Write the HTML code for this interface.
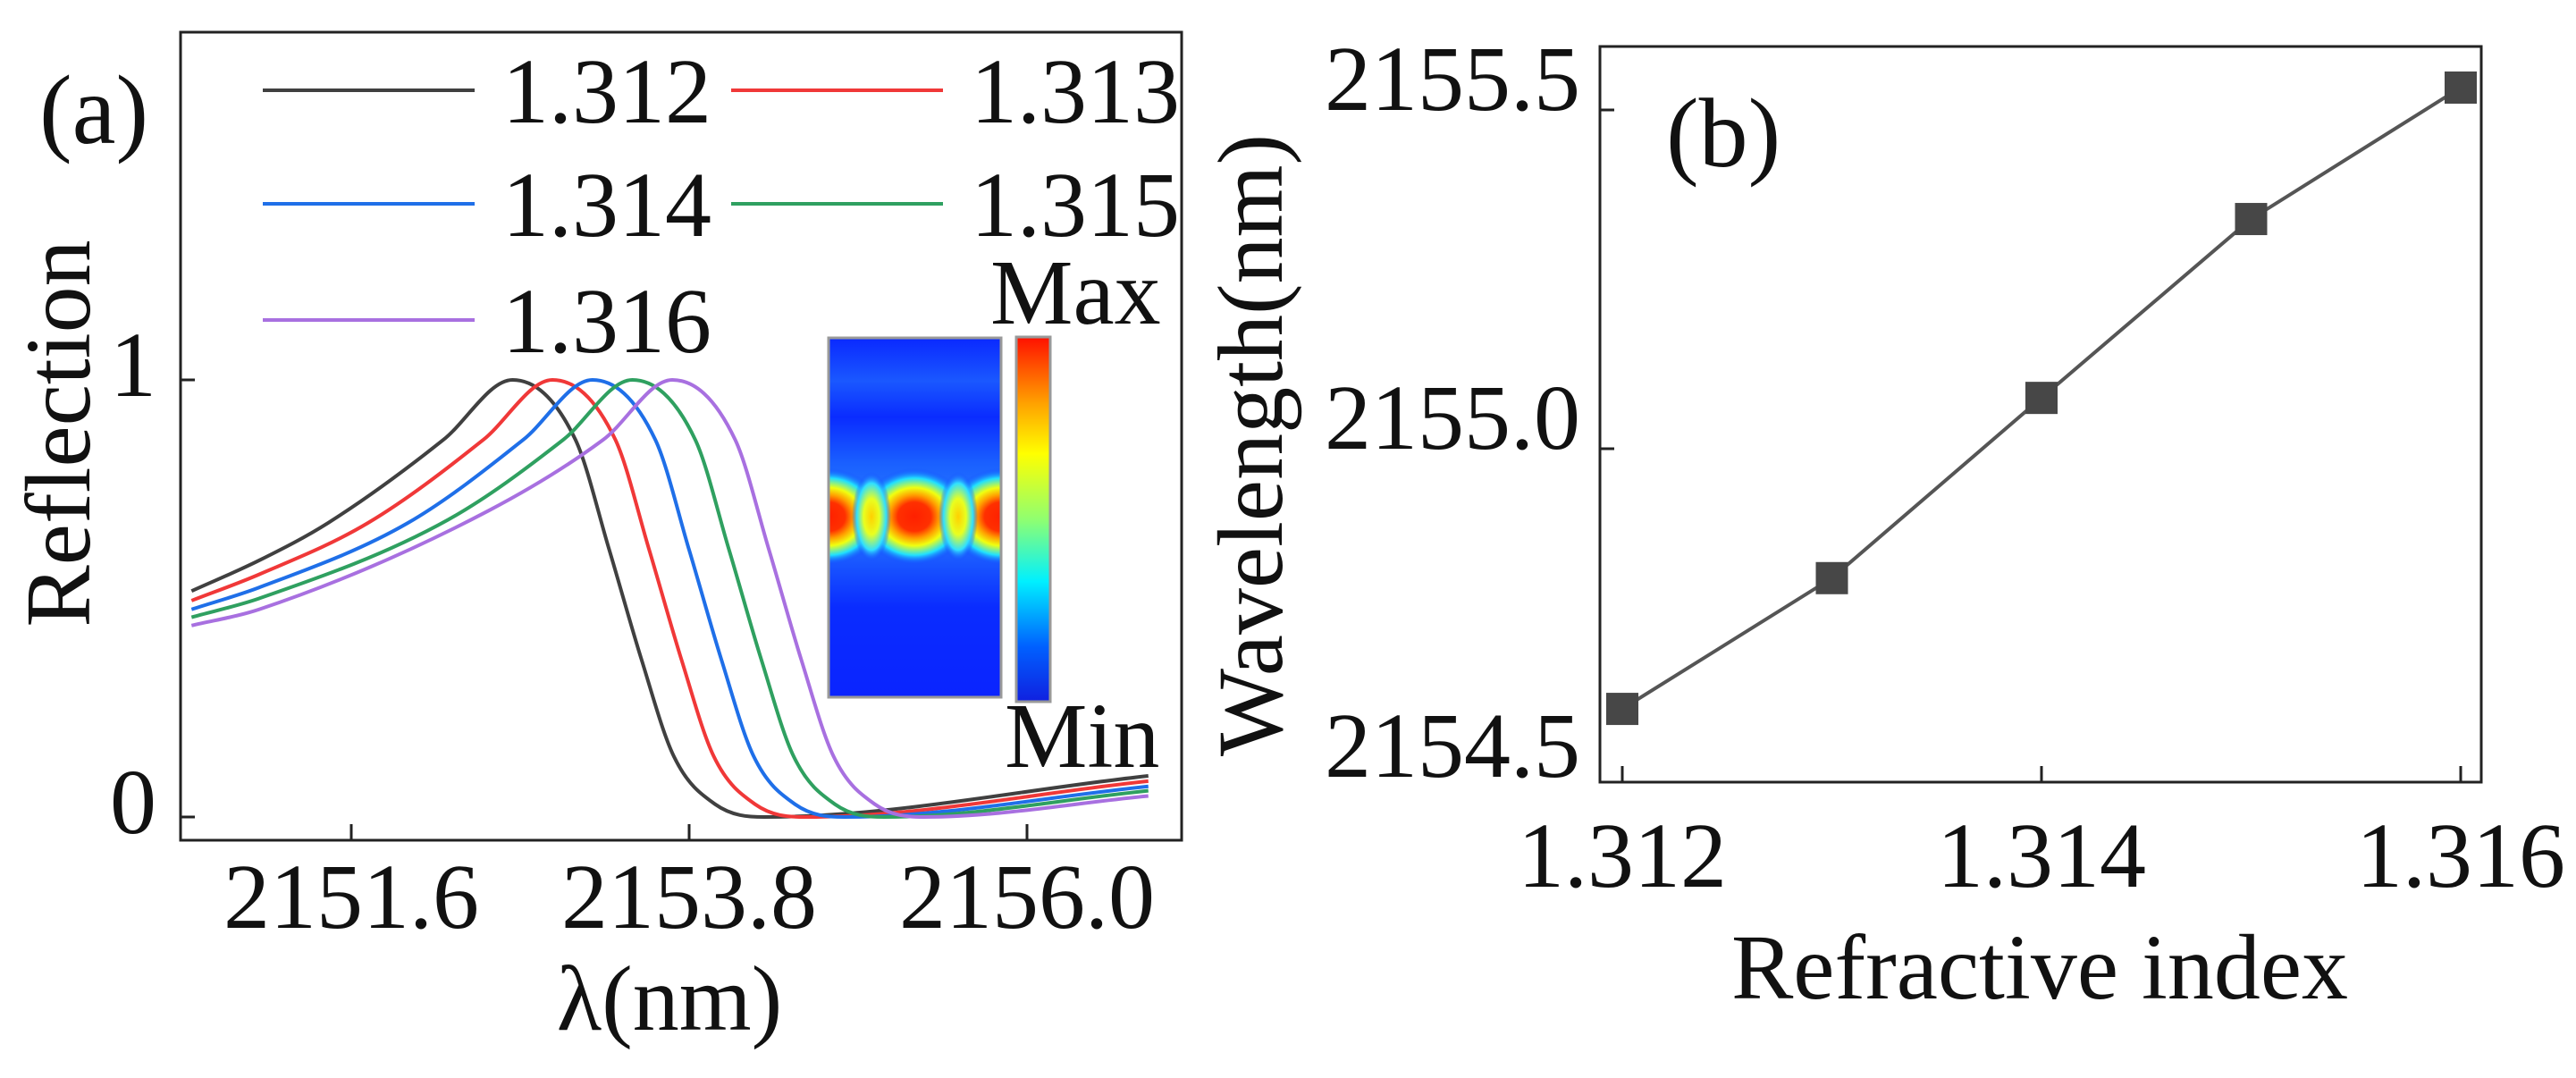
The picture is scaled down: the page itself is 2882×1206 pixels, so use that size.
<!DOCTYPE html>
<html><head><meta charset="utf-8"><style>
html,body{margin:0;padding:0;background:#fff}
svg{display:block}
text{font-family:"Liberation Serif",serif;fill:#111}
</style></head><body>
<svg id="fig" width="2882" height="1206" viewBox="0 0 2882 1206">
<defs>
<radialGradient id="hot" cx="50%" cy="50%" r="50%">
<stop offset="0" stop-color="#ff2000"/><stop offset="0.3" stop-color="#ff3000"/><stop offset="0.45" stop-color="#ffa000"/><stop offset="0.6" stop-color="#f0ff10"/><stop offset="0.8" stop-color="#20e0ff"/><stop offset="1" stop-color="#1040ff" stop-opacity="0"/>
</radialGradient>
<radialGradient id="lobe" cx="50%" cy="50%" r="50%">
<stop offset="0" stop-color="#ffd000"/><stop offset="0.4" stop-color="#e8ff20"/><stop offset="0.75" stop-color="#30e0ff"/><stop offset="1" stop-color="#1040ff" stop-opacity="0"/>
</radialGradient>
<linearGradient id="band" x1="0" y1="0" x2="0" y2="1">
<stop offset="0" stop-color="#0a28ff"/><stop offset="0.12" stop-color="#1a58ff"/><stop offset="0.22" stop-color="#0a2cff"/><stop offset="0.35" stop-color="#1a60ff"/><stop offset="0.5" stop-color="#2a80ff"/><stop offset="0.62" stop-color="#1a58ff"/><stop offset="0.75" stop-color="#0a2cff"/><stop offset="1" stop-color="#0a24ff"/>
</linearGradient>
<linearGradient id="jet" x1="0" y1="1" x2="0" y2="0">
<stop offset="0" stop-color="#1020e0"/><stop offset="0.15" stop-color="#0060ff"/><stop offset="0.33" stop-color="#00f0ff"/><stop offset="0.5" stop-color="#90ff70"/><stop offset="0.68" stop-color="#ffff00"/><stop offset="0.82" stop-color="#ffa000"/><stop offset="1" stop-color="#ff1000"/>
</linearGradient>
</defs>
<g id="pa"></g>
<g id="pb"></g>
</svg>
<script>
// ---------- Panel (a) data ----------
const seriesNames = ["1.312","1.313","1.314","1.315","1.316"];
const seriesColors = ["#404040","#f03838","#1f6fe8","#2fa060","#a870e0"];
const lam0 = [2150.56,2151.0,2151.45,2152.2,2152.65,2153.06,2153.28,2153.49,2153.7,2153.97,2154.29,2156.79];
const lam1 = [2150.56,2151.0,2151.71,2152.46,2152.91,2153.32,2153.54,2153.75,2153.96,2154.23,2154.55,2156.79];
const lam2 = [2150.56,2151.0,2151.97,2152.72,2153.17,2153.58,2153.8,2154.01,2154.22,2154.49,2154.81,2156.79];
const lam3 = [2150.56,2151.0,2152.23,2152.98,2153.43,2153.84,2154.06,2154.27,2154.48,2154.75,2155.07,2156.79];
const lam4 = [2150.56,2151.0,2152.49,2153.24,2153.69,2154.1,2154.32,2154.53,2154.74,2155.01,2155.33,2156.79];
const ref0 = [0.517,0.587,0.673,0.863,1.0,0.863,0.611,0.36,0.139,0.029,0.0,0.094];
const ref1 = [0.495,0.555,0.673,0.863,1.0,0.863,0.611,0.36,0.139,0.029,0.0,0.082];
const ref2 = [0.475,0.525,0.673,0.863,1.0,0.863,0.611,0.36,0.139,0.029,0.0,0.07];
const ref3 = [0.457,0.500,0.68,0.863,1.0,0.863,0.611,0.36,0.139,0.029,0.0,0.06];
const ref4 = [0.438,0.475,0.70,0.863,1.0,0.863,0.611,0.36,0.139,0.029,0.0,0.048];
const xTicksA = [2151.6,2153.8,2156.0];
const xTickLabelsA = ["2151.6","2153.8","2156.0"];
const yTicksA = [0,1];
const yTickLabelsA = ["0","1"];
// ---------- Panel (b) data ----------
const indexVals = [1.312,1.313,1.314,1.315,1.316];
const wavelengthVals = [2154.616,2154.809,2155.075,2155.339,2155.533];
const xTicksB = [1.312,1.314,1.316];
const xTickLabelsB = ["1.312","1.314","1.316"];
const yTicksB = [2154.5,2155.0,2155.5];
const yTickLabelsB = ["2154.5","2155.0","2155.5"];

const NS="http://www.w3.org/2000/svg";
function mk(parent,tag,attrs,txt){const e=document.createElementNS(NS,tag);for(const k in attrs)e.setAttribute(k,attrs[k]);if(txt!==undefined)e.textContent=txt;parent.appendChild(e);return e;}

const xA = v => 393 + (v-2151.6)*(1149-393)/4.4;
const yA = v => 914 - v*(914-425);
const xB = v => 1815 + (v-1.312)*(2753-1815)/0.004;
const yB = v => 502 - (v-2155.0)*(502-123)/0.5;

function monoPath(xs,ys){
  const n=xs.length,d=[],m=[];
  for(let i=0;i<n-1;i++)d.push((ys[i+1]-ys[i])/(xs[i+1]-xs[i]));
  m[0]=d[0];m[n-1]=d[n-2];
  for(let i=1;i<n-1;i++){ if(d[i-1]*d[i]<=0)m[i]=0; else m[i]=(d[i-1]+d[i])/2; }
  for(let i=0;i<n-1;i++){ if(d[i]===0){m[i]=0;m[i+1]=0;continue;} const a=m[i]/d[i],b=m[i+1]/d[i],s=a*a+b*b; if(s>9){const t=3/Math.sqrt(s);m[i]=t*a*d[i];m[i+1]=t*b*d[i];} }
  let p="M"+xs[0]+","+ys[0];
  for(let i=0;i<n-1;i++){const h=xs[i+1]-xs[i];p+=" C"+(xs[i]+h/3)+","+(ys[i]+m[i]*h/3)+" "+(xs[i+1]-h/3)+","+(ys[i+1]-m[i+1]*h/3)+" "+xs[i+1]+","+ys[i+1];}
  return p;
}

// ---------- Draw panel (a) ----------
const pa=document.getElementById('pa');
const lams=[lam0,lam1,lam2,lam3,lam4], refs=[ref0,ref1,ref2,ref3,ref4];
for(let s=0;s<5;s++){
  const c=mk(pa,'path',{d:monoPath(lams[s].map(xA),refs[s].map(yA)),fill:'none',stroke:seriesColors[s],'stroke-width':4});
  
  
}
const fa=mk(pa,'rect',{x:202,y:36,width:1120,height:904,fill:'none',stroke:'#222','stroke-width':3});


xTicksA.forEach((v,i)=>{
  mk(pa,'line',{x1:xA(v),x2:xA(v),y1:940,y2:922,stroke:'#222','stroke-width':3});
  const t=mk(pa,'text',{x:xA(v),y:1038,'font-size':104,'text-anchor':'middle'},xTickLabelsA[i]);
  
  
});
yTicksA.forEach((v,i)=>{
  mk(pa,'line',{x1:202,x2:218,y1:yA(v),y2:yA(v),stroke:'#222','stroke-width':3});
  const t=mk(pa,'text',{x:175,y:yA(v)+18,'font-size':104,'text-anchor':'end'},yTickLabelsA[i]);
  
  
});
const legPos=[[294,101],[818,101],[294,228],[818,228],[294,358]];
for(let s=0;s<5;s++){
  const g=mk(pa,'g',{});
  
  
  const [lx,ly]=legPos[s];
  mk(g,'line',{x1:lx,x2:lx+237,y1:ly,y2:ly,stroke:seriesColors[s],'stroke-width':4});
  mk(g,'text',{x:lx+268,y:ly+36,'font-size':104},seriesNames[s]);
}
// inset
const ins=mk(pa,'g',{});


mk(ins,'rect',{x:927,y:378,width:193,height:402,fill:'url(#band)'});
const clipG=mk(ins,'svg',{x:927,y:378,width:193,height:402,overflow:'hidden'});
[[0,200],[96,200],[193,200]].forEach(p=>mk(clipG,'ellipse',{cx:p[0],cy:p[1],rx:62,ry:54,fill:'url(#hot)'}));
[[48,200],[145,200]].forEach(p=>mk(clipG,'ellipse',{cx:p[0],cy:p[1],rx:22,ry:50,fill:'url(#lobe)'}));
mk(ins,'rect',{x:927,y:378,width:193,height:402,fill:'none',stroke:'#999','stroke-width':3});
mk(ins,'rect',{x:1137,y:377,width:38,height:408,fill:'url(#jet)',stroke:'#999','stroke-width':3});
const tmax=mk(pa,'text',{x:1108,y:362,'font-size':104},'Max');


const tmin=mk(pa,'text',{x:1124,y:858,'font-size':104},'Min');


const la=mk(pa,'text',{x:44,y:160,'font-size':110},'(a)');


const yta=mk(pa,'text',{x:0,y:0,'font-size':104,'text-anchor':'middle',transform:'translate(100,485) rotate(-90)'},'Reflection');


const xta=mk(pa,'text',{x:749,y:1152,'font-size':104,'text-anchor':'middle'},'λ(nm)');



// ---------- Draw panel (b) ----------
const pb=document.getElementById('pb');
const fb=mk(pb,'rect',{x:1790,y:52,width:986,height:823,fill:'none',stroke:'#222','stroke-width':3});


xTicksB.forEach((v,i)=>{
  mk(pb,'line',{x1:xB(v),x2:xB(v),y1:875,y2:857,stroke:'#222','stroke-width':3});
  const t=mk(pb,'text',{x:xB(v),y:992,'font-size':104,'text-anchor':'middle'},xTickLabelsB[i]);
  
  
});
yTicksB.forEach((v,i)=>{
  if(yB(v)<875) mk(pb,'line',{x1:1790,x2:1806,y1:yB(v),y2:yB(v),stroke:'#222','stroke-width':3});
  const t=mk(pb,'text',{x:1768,y:Math.min(yB(v),869),'font-size':104,'text-anchor':'end'},yTickLabelsB[i]);
  
  
});
const pts=indexVals.map((v,i)=>[xB(v),yB(wavelengthVals[i])]);
const ln=mk(pb,'polyline',{points:pts.map(p=>p.join(',')).join(' '),fill:'none',stroke:'#555','stroke-width':4});


pts.forEach((p,i)=>{
  const r=mk(pb,'rect',{x:p[0]-18,y:p[1]-18,width:36,height:36,fill:'#474747'});
  
  
});
const lb=mk(pb,'text',{x:1864,y:186,'font-size':110},'(b)');


const ytb=mk(pb,'text',{x:0,y:0,'font-size':104,'text-anchor':'middle',transform:'translate(1434,498) rotate(-90)'},'Wavelength(nm)');


const xtb=mk(pb,'text',{x:2282,y:1117,'font-size':104,'text-anchor':'middle'},'Refractive index');


</script>
</body></html>
